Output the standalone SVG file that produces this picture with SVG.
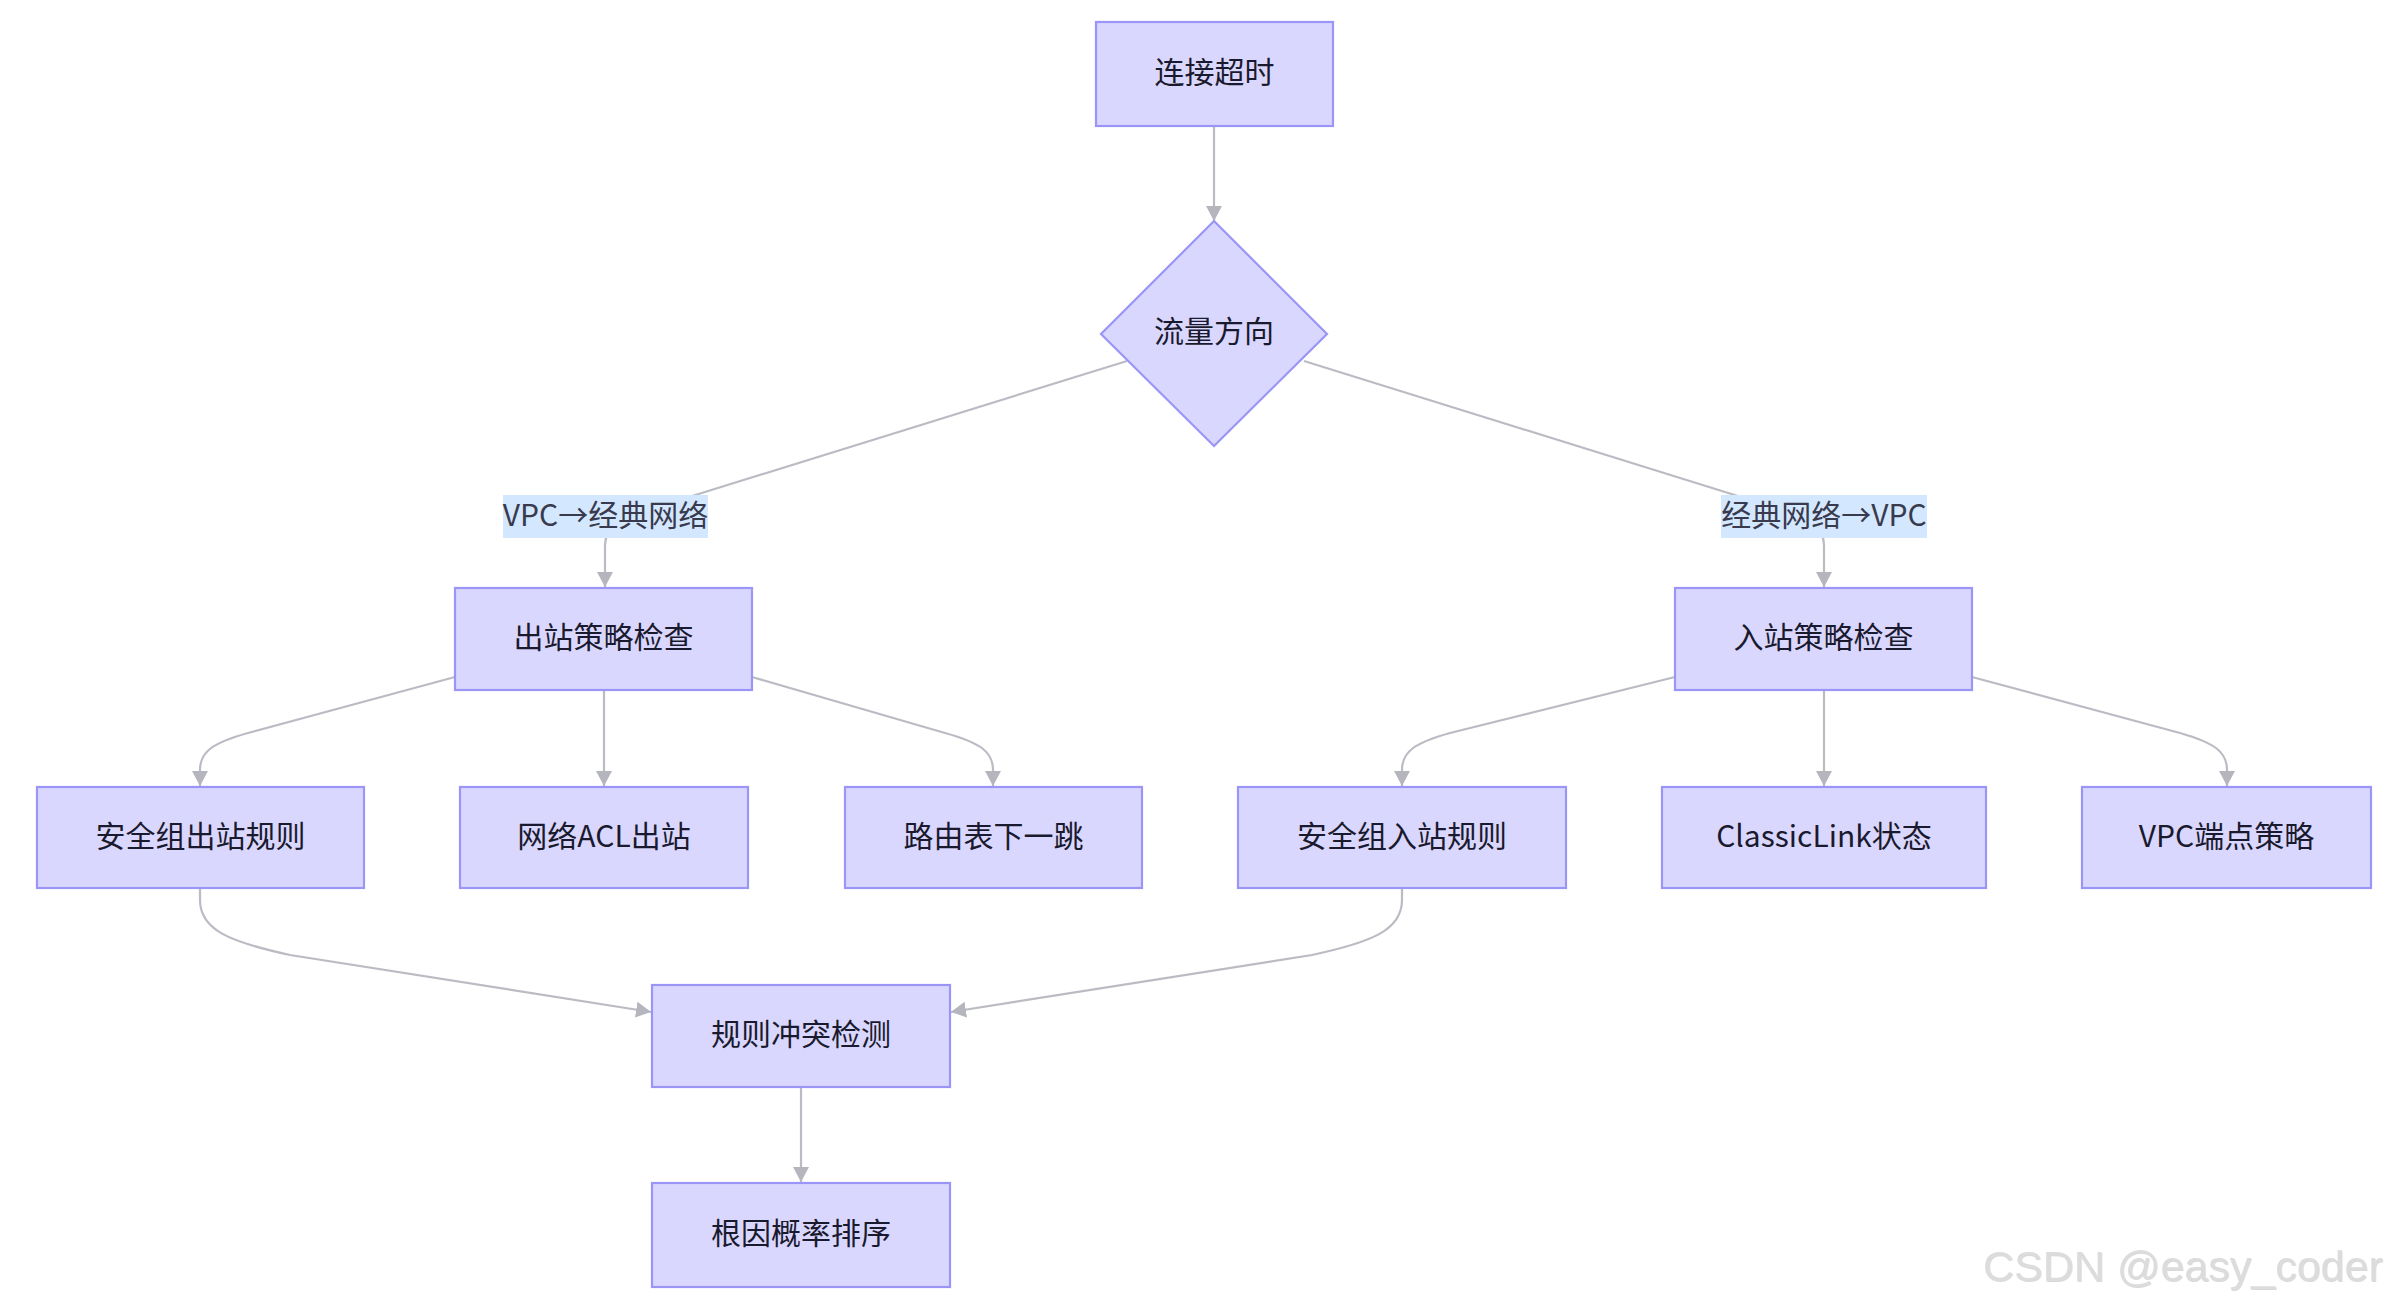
<svg xmlns="http://www.w3.org/2000/svg" width="2388" height="1304" viewBox="0 0 2388 1304">
<style>
.node rect, .node polygon { fill: #DAD7FE; stroke: #9A95F6; stroke-width: 2.2; }
.node text { font-family: "Noto Sans CJK SC", "Noto Sans", sans-serif; font-size: 30px; fill: #1a1a2e; text-anchor: middle; dominant-baseline: central; }
.edge { fill: none; stroke: #BBBBC4; stroke-width: 2.2; }
.lbl rect { fill: #D3E8FE; }
.lbl text { font-family: "Noto Sans CJK SC", "Noto Sans", sans-serif; font-size: 30px; fill: #3a3a4e; text-anchor: middle; dominant-baseline: central; }
.wm { font-family: "Liberation Sans", Arial, sans-serif; font-size: 43px; fill: #DCDCDC; }
</style>
<defs>
<marker id="arr" markerUnits="userSpaceOnUse" markerWidth="17" markerHeight="17" refX="15" refY="8" orient="auto">
<path d="M0,0 L15,8 L0,16 z" fill="#B5B5BE"/>
</marker>
<filter id="emb" x="-5%" y="-20%" width="110%" height="140%">
<feDropShadow dx="0.8" dy="1" stdDeviation="0.6" flood-color="#b0b0b0" flood-opacity="0.5"/>
</filter>
</defs>
<rect width="2388" height="1304" fill="#ffffff"/>
<g id="edges">
<path class="edge" d="M1214,126 L1214,221" marker-end="url(#arr)"/>
<path class="edge" d="M1127,361 L660,506 C620,519 605,528 605,545 L605,587" marker-end="url(#arr)"/>
<path class="edge" d="M1304,361 L1770,506 C1810,519 1824,528 1824,545 L1824,587" marker-end="url(#arr)"/>
<path class="edge" d="M455,677 L248,733 C212,743 200,752 200,770 L200,786" marker-end="url(#arr)"/>
<path class="edge" d="M604,690 L604,786" marker-end="url(#arr)"/>
<path class="edge" d="M752,677 L945,733 C981,743 993,752 993,770 L993,786" marker-end="url(#arr)"/>
<path class="edge" d="M1675,677 L1450,733 C1414,743 1402,752 1402,770 L1402,786" marker-end="url(#arr)"/>
<path class="edge" d="M1824,690 L1824,786" marker-end="url(#arr)"/>
<path class="edge" d="M1972,677 L2180,733 C2215,743 2227,752 2227,770 L2227,786" marker-end="url(#arr)"/>
<path class="edge" d="M200,888 L200,900 C200,930 230,942 290,955 L651,1012" marker-end="url(#arr)"/>
<path class="edge" d="M1402,888 L1402,900 C1402,930 1372,942 1312,955 L951,1012" marker-end="url(#arr)"/>
<path class="edge" d="M801,1087 L801,1182" marker-end="url(#arr)"/>
</g>
<g id="label-vpc-classic" class="lbl">
<rect x="503" y="495" width="205" height="43"/>
<text x="605.5" y="513">VPC→经典网络</text>
</g>
<g id="label-classic-vpc" class="lbl">
<rect x="1721" y="495" width="206" height="43"/>
<text x="1824" y="513">经典网络→VPC</text>
</g>
<g id="n-timeout" class="node">
<rect x="1096" y="22" width="237" height="104"/>
<text x="1214.5" y="70">连接超时</text>
</g>
<g id="n-direction" class="node">
<polygon points="1214,221 1327,334 1214,446 1101,334"/>
<text x="1214" y="329">流量方向</text>
</g>
<g id="n-outbound" class="node">
<rect x="455" y="588" width="297" height="102"/>
<text x="603.5" y="635">出站策略检查</text>
</g>
<g id="n-inbound" class="node">
<rect x="1675" y="588" width="297" height="102"/>
<text x="1823.5" y="635">入站策略检查</text>
</g>
<g id="n-sg-out" class="node">
<rect x="37" y="787" width="327" height="101"/>
<text x="200.5" y="833.5">安全组出站规则</text>
</g>
<g id="n-acl-out" class="node">
<rect x="460" y="787" width="288" height="101"/>
<text x="604" y="833.5">网络ACL出站</text>
</g>
<g id="n-route" class="node">
<rect x="845" y="787" width="297" height="101"/>
<text x="993.5" y="833.5">路由表下一跳</text>
</g>
<g id="n-sg-in" class="node">
<rect x="1238" y="787" width="328" height="101"/>
<text x="1402" y="833.5">安全组入站规则</text>
</g>
<g id="n-classiclink" class="node">
<rect x="1662" y="787" width="324" height="101"/>
<text x="1824" y="833.5">ClassicLink状态</text>
</g>
<g id="n-endpoint" class="node">
<rect x="2082" y="787" width="289" height="101"/>
<text x="2226.5" y="833.5">VPC端点策略</text>
</g>
<g id="n-conflict" class="node">
<rect x="652" y="985" width="298" height="102"/>
<text x="801" y="1032">规则冲突检测</text>
</g>
<g id="n-rootcause" class="node">
<rect x="652" y="1183" width="298" height="104"/>
<text x="801" y="1231">根因概率排序</text>
</g>
<text class="wm" x="1983" y="1281" filter="url(#emb)">CSDN @easy_coder</text>
</svg>
